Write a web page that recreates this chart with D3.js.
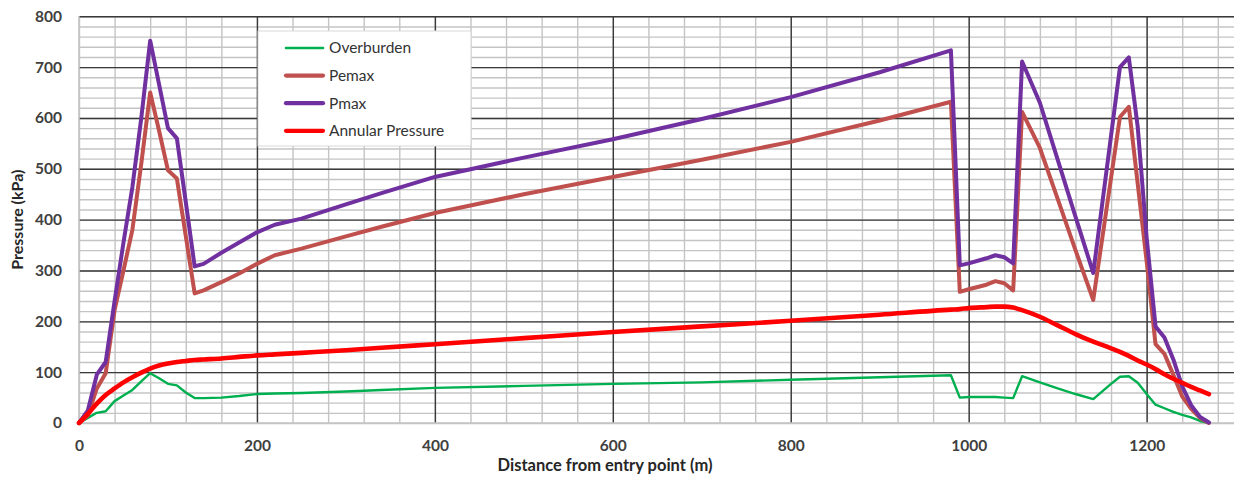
<!DOCTYPE html>
<html>
<head>
<meta charset="utf-8">
<script src="https://cdn.jsdelivr.net/npm/d3@7/dist/d3.min.js"></script>
<style>
  html, body { margin: 0; padding: 0; background: #fff; overflow: hidden; }
  svg { display: block; }
  .tick text { font-family: Lato, "Open Sans", sans-serif; font-weight: 700; font-size: 15.5px; fill: #404040; }
</style>
</head>
<body>
<svg id="chart" width="1234" height="478"></svg>
<script>
// Distance along the bore (m)
const distance = [0, 10, 20, 30, 40, 50, 60, 70, 80, 90, 100, 110, 120, 130, 140, 160, 180, 200, 220, 250,
  300, 340, 400, 500, 600, 700, 800, 900, 980, 990, 1000, 1020, 1030, 1040, 1050, 1060, 1080, 1100, 1120,
  1140, 1160, 1170, 1180, 1190, 1200, 1210, 1220, 1230, 1240, 1250, 1260, 1270];

// Pressures (kPa)
const overburden = [0, 10, 20, 23, 43, 54, 65, 82, 98, 88, 77, 74, 60, 49, 49, 50, 53, 57, 58, 59,
  62, 65, 69, 73, 77, 80, 85, 90, 94, 50, 51, 51, 51, 50, 49, 92, 80, 68, 57,
  47, 77, 91, 92, 79, 57, 36, 29, 22, 16, 11, 4, 0];

const pemax = [0, 15, 68, 98, 222, 300, 380, 510, 650, 575, 497, 481, 368, 255, 261, 277, 294, 313, 330, 343,
  367, 386, 413, 450, 484, 518, 553, 595, 632, 258, 263, 272, 279, 275, 261, 612, 541, 441, 340,
  242, 482, 602, 622, 470, 318, 155, 136, 95, 52, 28, 10, 0];

const pmax = [0, 25, 95, 120, 240, 355, 464, 600, 752, 666, 580, 560, 435, 308, 313, 335, 355, 375, 390, 402,
  430, 452, 484, 522, 558, 598, 641, 690, 733, 310, 314, 324, 330, 326, 314, 711, 630, 518, 406,
  295, 565, 700, 719, 582, 365, 190, 168, 125, 72, 35, 12, 1];

const annular = [0, 18, 38, 55, 68, 80, 90, 99, 107, 113, 117, 120, 122, 124, 125, 127, 130, 133, 135, 138,
  143, 148, 155, 167, 179, 190, 201, 213, 223, 224, 226, 228, 229, 229, 227, 222, 209, 192, 175,
  160, 147, 140, 132, 123, 115, 106, 96, 87, 79, 71, 64, 57];

const seriesNames = ["Overburden", "Pemax", "Pmax", "Annular Pressure"];
const xTicks = [0, 200, 400, 600, 800, 1000, 1200];
const yTicks = [0, 100, 200, 300, 400, 500, 600, 700, 800];

const series = [
  { name: seriesNames[0], values: overburden, color: "#00b050", width: 2.4, curve: d3.curveLinear },
  { name: seriesNames[1], values: pemax, color: "#c0504d", width: 4, curve: d3.curveLinear },
  { name: seriesNames[2], values: pmax, color: "#7030a0", width: 4, curve: d3.curveLinear },
  { name: seriesNames[3], values: annular, color: "#ff0000", width: 4.6, curve: d3.curveMonotoneX }
];

const svg = d3.select("#chart");
const plotLeft = 79, plotTop = 16.3, plotBottom = 423;

const x = d3.scaleLinear().domain([0, 1300]).range([plotLeft, plotLeft + 1300 * 0.8897]);
const y = d3.scaleLinear().domain([0, 800]).range([plotBottom, plotTop]);

const plotW = x(1300) - plotLeft;
const plotH = plotBottom - plotTop;

// Minor grid: every 40 m and every 20 kPa
svg.append("g")
  .attr("transform", `translate(0,${plotBottom})`)
  .call(d3.axisBottom(x).tickValues(d3.range(0, 1301, 40)).tickSize(-plotH).tickFormat(""))
  .call(g => g.select(".domain").remove())
  .call(g => g.selectAll("line").attr("stroke", "#c4c4c4").attr("stroke-width", 1.4));

svg.append("g")
  .attr("transform", `translate(${plotLeft},0)`)
  .call(d3.axisLeft(y).tickValues(d3.range(0, 801, 20)).tickSize(-plotW).tickFormat(""))
  .call(g => g.select(".domain").remove())
  .call(g => g.selectAll("line").attr("stroke", "#c4c4c4").attr("stroke-width", 1.4));

// Major grid
svg.append("g")
  .attr("transform", `translate(0,${plotBottom})`)
  .call(d3.axisBottom(x).tickValues(xTicks.filter(d => d > 0)).tickSize(-plotH).tickFormat(""))
  .call(g => g.select(".domain").remove())
  .call(g => g.selectAll("line").attr("stroke", "#3a3a3a").attr("stroke-width", 1.4));

svg.append("g")
  .attr("transform", `translate(${plotLeft},0)`)
  .call(d3.axisLeft(y).tickValues(yTicks.filter(d => d > 0)).tickSize(-plotW).tickFormat(""))
  .call(g => g.select(".domain").remove())
  .call(g => g.selectAll("line").attr("stroke", "#3a3a3a").attr("stroke-width", 1.4));

// Axis lines
svg.append("line").attr("x1", plotLeft).attr("x2", plotLeft).attr("y1", plotTop).attr("y2", plotBottom)
  .attr("stroke", "#c4c4c4").attr("stroke-width", 1.6);
svg.append("line").attr("x1", plotLeft).attr("x2", x(1300)).attr("y1", plotBottom).attr("y2", plotBottom)
  .attr("stroke", "#c4c4c4").attr("stroke-width", 1.6);

// Tick labels
svg.append("g")
  .attr("transform", `translate(0,${plotBottom})`)
  .call(d3.axisBottom(x).tickValues(xTicks).tickSize(0).tickPadding(17).tickFormat(d3.format("d")))
  .call(g => g.select(".domain").remove());

svg.append("g")
  .attr("transform", `translate(${plotLeft},0)`)
  .call(d3.axisLeft(y).tickValues(yTicks).tickSize(0).tickPadding(17).tickFormat(d3.format("d")))
  .call(g => g.select(".domain").remove());

// Axis titles
svg.append("text")
  .attr("x", 605).attr("y", 471)
  .attr("text-anchor", "middle")
  .style("font-family", "Lato, 'Open Sans', sans-serif")
  .style("font-weight", 700).style("font-size", "16.5px").style("fill", "#262626")
  .text("Distance from entry point (m)");

svg.append("text")
  .attr("transform", `translate(23,${(plotTop + plotBottom) / 2}) rotate(-90)`)
  .attr("text-anchor", "middle")
  .style("font-family", "Lato, 'Open Sans', sans-serif")
  .style("font-weight", 700).style("font-size", "16px").style("fill", "#262626")
  .text("Pressure (kPa)");

// Data lines
const plot = svg.append("g");
series.forEach(s => {
  const line = d3.line()
    .x((d, i) => x(distance[i]))
    .y(d => y(d))
    .curve(s.curve);
  plot.append("path")
    .datum(s.values)
    .attr("fill", "none")
    .attr("stroke", s.color)
    .attr("stroke-width", s.width)
    .attr("stroke-linejoin", "round")
    .attr("stroke-linecap", "round")
    .attr("d", line);
});

// Legend
const legend = svg.append("g").attr("transform", "translate(258,31)");
legend.append("rect")
  .attr("width", 213).attr("height", 115)
  .attr("fill", "#fff").attr("stroke", "#d9d9d9").attr("stroke-width", 1);
series.forEach((s, i) => {
  const ly = 17 + i * 27.6;
  legend.append("line")
    .attr("x1", 28).attr("x2", 65).attr("y1", ly).attr("y2", ly)
    .attr("stroke", s.color).attr("stroke-width", s.name === "Overburden" ? 2.6 : 4.2)
    .attr("stroke-linecap", "round");
  legend.append("text")
    .attr("x", 71).attr("y", ly).attr("dy", "0.35em")
    .style("font-family", "Lato, 'Open Sans', sans-serif")
    .style("font-size", "15.5px").style("fill", "#333333")
    .text(s.name);
});
</script>
</body>
</html>
